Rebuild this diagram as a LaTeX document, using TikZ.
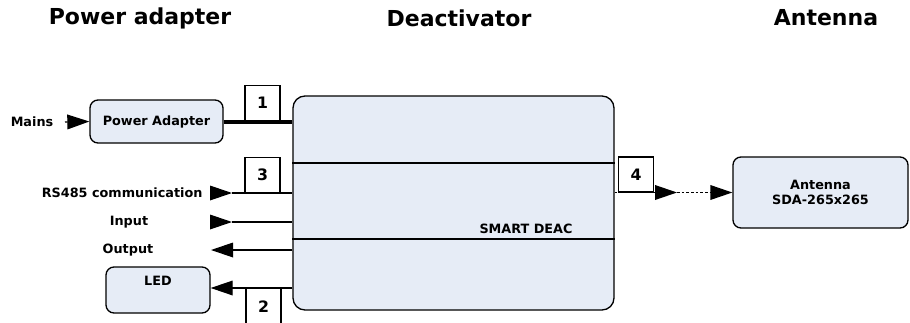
\documentclass[tikz,border=0pt]{standalone}
\usepackage{fontspec}
\setmainfont{DejaVu Sans}
\usepackage{tikz}
\usetikzlibrary{arrows.meta}
\definecolor{boxfill}{RGB}{230,236,246}
\newcommand{\lblfont}{\fontsize{9.6}{11.5}\selectfont\bfseries}
\tikzset{blockbox/.style={draw, line width=1pt, fill=boxfill, rounded corners=6pt, font=\lblfont, align=center}}
\tikzset{numbox/.style={draw, line width=1pt, fill=white, minimum size=26.25pt, inner sep=0pt, font=\fontsize{11.8}{13}\selectfont\bfseries}}
\tikzset{lbl/.style={font=\lblfont, inner sep=0pt}}
\tikzset{head/.style={font=\fontsize{16.5}{19}\selectfont\bfseries, inner sep=0pt}}
\tikzset{arr/.style={-{Triangle[length=16.5pt,width=11pt]}}}
\tikzset{dotline/.style={line width=1pt, dash pattern=on 2pt off 1.5pt}}

\begin{document}
\begin{tikzpicture}[x=0.75pt, y=-0.75pt, line width=0.9pt]
    \useasboundingbox (0,0) rectangle (910,322);

    \node[head] at (140,18) (hpa){Power adapter};
    \node[head] at (459,18) (hdeac){Deactivator};
    \node[head] at (826,18) (hant){Antenna};

    % main unit
    \node[blockbox, rounded corners=9pt, minimum width=240.75pt, minimum height=160.5pt] at (453.5,203) (deac){};
    \coordinate (cut1) at (0,163);
    \coordinate (cut2) at (0,239);
    \draw (deac.west |- cut1) -- (deac.east |- cut1);
    \draw (deac.west |- cut2) -- (deac.east |- cut2);
    \node[lbl] at (526,229) (smart){SMART DEAC};

    % power side
    \node[blockbox, minimum width=99.75pt, minimum height=32.25pt] at (156.5,121.5) (pa){Power Adapter};
    \node[lbl] at (32,122) (mains){Mains};
    \coordinate (mainsin) at (65,122);
    \draw[arr] (mainsin) -- (pa.west);
    \draw[line width=3pt] (pa.east) -- (deac.west |- pa.east);
    \node[numbox, anchor=south] at (262.5,121) (n1){1};

    % signals
    \node[lbl, anchor=east] at (203,193) (rs){RS485 communication};
    \coordinate (rsA) at (211,193);
    \coordinate (rsB) at (232,193);
    \draw[arr] (rsA) -- (rsB);
    \draw (rsB) -- (deac.west |- rsB);
    \node[numbox, anchor=south] at (262.5,193) (n3){3};

    \node[lbl] at (129,222) (inp){Input};
    \coordinate (inA) at (211,222);
    \coordinate (inB) at (232,222);
    \draw[arr] (inA) -- (inB);
    \draw (inB) -- (deac.west |- inB);

    \node[lbl] at (128,250) (outp){Output};
    \coordinate (outA) at (211,250);
    \draw[arr] (deac.west |- outA) -- (outA);

    \node[blockbox, minimum width=78pt, minimum height=34.5pt] at (158,290) (led){};
    \node[lbl] at ([yshift=-11pt]led.north) (ledtxt){LED};
    \coordinate (ledA) at (0,288);
    \draw[arr] (deac.west |- ledA) -- (led.east |- ledA);
    \node[numbox, anchor=north] at (263.5,288) (n2){2};

    % antenna side
    \node[blockbox, minimum width=131.25pt, minimum height=53.25pt] at (820.5,192.5) (ant){Antenna\\SDA-265x265};
    \coordinate (antmid) at (677,192.5);
    \draw[dotline, arr] (deac.east |- antmid) -- (antmid);
    \draw[dotline, arr] (antmid) -- (ant.west);
    \node[numbox, anchor=south] at (636,192.5) (n4){4};
\end{tikzpicture}
\end{document}
